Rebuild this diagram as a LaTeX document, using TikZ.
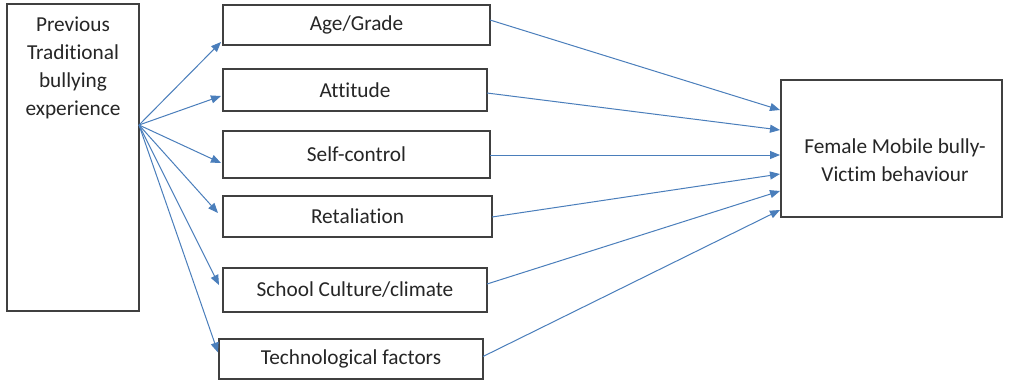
\documentclass[tikz,border=0pt]{standalone}
\usepackage{fontspec}
\setmainfont{Carlito}[Ligatures=NoCommon]
\usetikzlibrary{arrows.meta,calc}
\definecolor{arrowblue}{RGB}{74,126,187}
\definecolor{boxline}{RGB}{64,64,64}
\tikzset{
  box/.style={draw=boxline, line width=1.4pt, fill=white, inner sep=0pt, outer sep=0pt, anchor=north west, font=\fontsize{21.3}{28}\selectfont, text=black!85},
  txt/.style={inner sep=0pt, align=center, font=\fontsize{21.3}{28}\selectfont, text=black!85},
  arr/.style={draw=arrowblue, line width=1pt, -{Triangle[length=10pt,width=8pt]}}
}
\begin{document}
\begin{tikzpicture}[x=1pt,y=-1pt]
\path[fill=white] (0,0) rectangle (1020,381);
\useasboundingbox (0,0) rectangle (1020,381);
% left box
\node[box, minimum width=132pt, minimum height=307pt] (prev) at (7,4) {};
\node[txt, anchor=north] (prevtext) at (73,17) {Previous\\Traditional\\bullying\\experience};
% middle boxes
\node[box, minimum width=267pt, minimum height=40pt] (age) at (223,5) {Age/Grade};
\node[box, minimum width=264pt, minimum height=42pt] (att) at (223,69) {Attitude};
\node[box, minimum width=267pt, minimum height=47pt] (self) at (223,131) {Self-control};
\node[box, minimum width=269pt, minimum height=41pt] (ret) at (223,196) {Retaliation};
\node[box, minimum width=264pt, minimum height=44pt] (school) at (223,268) {School Culture/climate};
\node[box, minimum width=264pt, minimum height=40pt] (tech) at (219,339) {Technological factors};
% right box
\node[box, minimum width=221pt, minimum height=137pt] (fem) at (781,80) {};
\node[txt, anchor=north] (femtext) at (895,139) {Female Mobile bully-\\Victim behaviour};
% fan origin
\coordinate (fan) at (139,125);
% left arrows
\draw[arr] (fan) -- ($(age.west)+(-2,17)$);
\draw[arr] (fan) -- ($(att.west)+(-2,6)$);
\draw[arr] (fan) -- ($(self.west)+(-2,8.5)$);
\draw[arr] (fan) -- ($(ret.west)+(-5,-3.5)$);
\draw[arr] (fan) -- ($(school.west)+(-4,-5)$);
\draw[arr] (fan) -- ($(tech.west)+(-1,-6.5)$);
% right arrows
\draw[arr] ($(age.east)+(0,-5)$) -- ($(fem.west)+(-1,-38.5)$);
\draw[arr] ($(att.east)+(0,3)$) -- ($(fem.west)+(-1,-18.5)$);
\draw[arr] ($(self.east)+(0,0.5)$) -- ($(fem.west)+(-1,6.5)$);
\draw[arr] ($(ret.east)+(0,0.5)$) -- ($(fem.west)+(-1,25.5)$);
\draw[arr] ($(school.east)+(0,-6)$) -- ($(fem.west)+(-1,42.5)$);
\draw[arr] ($(tech.east)+(0,-2.5)$) -- ($(fem.west)+(-1,61.5)$);
\end{tikzpicture}
\end{document}
